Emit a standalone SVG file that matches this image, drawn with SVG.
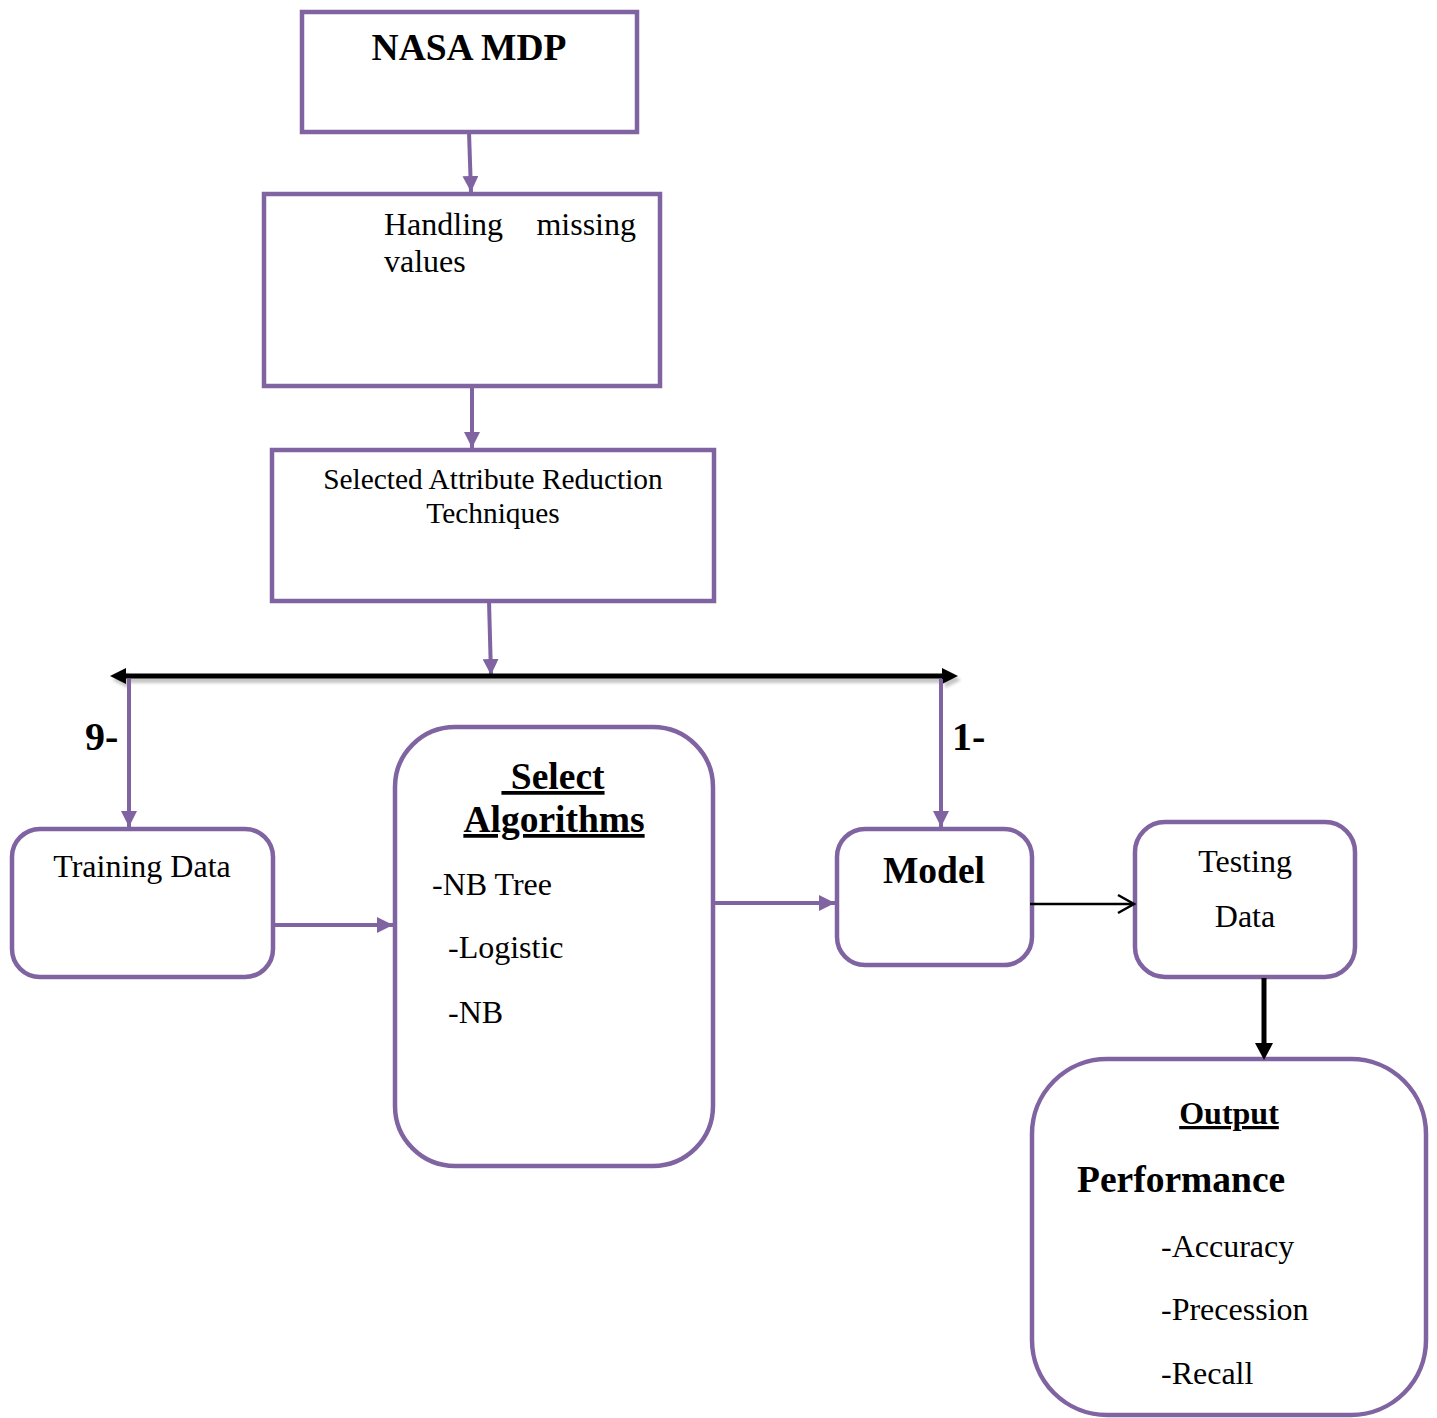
<svg xmlns="http://www.w3.org/2000/svg" width="1437" height="1418" viewBox="0 0 1437 1418">
  <style>
    .box { fill: #ffffff; stroke: #8064A2; stroke-width: 4.5; }
    .link { fill: none; stroke: #8064A2; stroke-width: 4; }
    .t { font-family: "Liberation Serif", "Times New Roman", serif; fill: #000000; font-size: 32px; }
    .b { font-weight: bold; font-size: 37.5px; }
    .s { font-size: 29.4px; }
    .u { text-decoration: underline; }
    .head { fill: #000000; }
  </style>
  <defs>
    <marker id="arrowPurple" markerUnits="userSpaceOnUse" markerWidth="18" markerHeight="16" refX="16" refY="8" orient="auto">
      <path d="M0,0 L16,8 L0,16 Z" fill="#8064A2"/>
    </marker>
    <marker id="arrowOpen" markerUnits="userSpaceOnUse" markerWidth="22" markerHeight="22" refX="19" refY="11" orient="auto">
      <path d="M3,2 L19,11 L3,20" fill="none" stroke="#000000" stroke-width="2.5"/>
    </marker>
    <filter id="softShadow" x="-5%" y="-200%" width="110%" height="500%">
      <feGaussianBlur stdDeviation="1.8"/>
    </filter>
  </defs>

  <!-- nodes -->
  <g id="nasa-mdp">
    <rect class="box" x="302" y="12" width="335" height="120"/>
    <text class="t b" x="469" y="60" text-anchor="middle">NASA MDP</text>
  </g>

  <g id="handling-missing">
    <rect class="box" x="264" y="194" width="396" height="192"/>
    <text class="t" x="384" y="235">Handling</text>
    <text class="t" x="636" y="235" text-anchor="end">missing</text>
    <text class="t" x="384" y="272">values</text>
  </g>

  <g id="attribute-reduction">
    <rect class="box" x="272" y="450" width="442" height="151"/>
    <text class="t s" x="493" y="489" text-anchor="middle">Selected Attribute Reduction</text>
    <text class="t s" x="493" y="523" text-anchor="middle">Techniques</text>
  </g>

  <g id="training-data">
    <rect class="box" x="12" y="829" width="261" height="148" rx="28" ry="28"/>
    <text class="t" x="142" y="877" text-anchor="middle">Training Data</text>
  </g>

  <g id="select-algorithms">
    <rect class="box" x="395" y="727" width="318" height="439" rx="60" ry="60"/>
    <text class="t b u" x="553" y="789" text-anchor="middle" xml:space="preserve"> Select</text>
    <text class="t b u" x="554" y="832" text-anchor="middle">Algorithms</text>
    <text class="t" x="432" y="895">-NB Tree</text>
    <text class="t" x="448" y="958">-Logistic</text>
    <text class="t" x="448" y="1023">-NB</text>
  </g>

  <g id="model">
    <rect class="box" x="837" y="829" width="195" height="136" rx="28" ry="28"/>
    <text class="t b" x="934" y="883" text-anchor="middle">Model</text>
  </g>

  <g id="testing-data">
    <rect class="box" x="1135" y="822" width="220" height="155" rx="30" ry="30"/>
    <text class="t" x="1245" y="872" text-anchor="middle">Testing</text>
    <text class="t" x="1245" y="927" text-anchor="middle">Data</text>
  </g>

  <g id="output">
    <rect class="box" x="1032" y="1059" width="394" height="356" rx="75" ry="75"/>
    <text class="t u" x="1229" y="1124" font-weight="bold" text-anchor="middle">Output</text>
    <text class="t b" x="1077" y="1192">Performance</text>
    <text class="t" x="1161" y="1257">-Accuracy</text>
    <text class="t" x="1161" y="1320">-Precession</text>
    <text class="t" x="1161" y="1384">-Recall</text>
  </g>

  <!-- connectors -->
  <g id="connectors">
    <line class="link" x1="469" y1="132" x2="471" y2="192" marker-end="url(#arrowPurple)"/>
    <line class="link" x1="472" y1="386" x2="472" y2="448" marker-end="url(#arrowPurple)"/>
    <line class="link" x1="489" y1="601" x2="491" y2="675" marker-end="url(#arrowPurple)"/>

    <!-- split bar with soft shadow -->
    <g filter="url(#softShadow)" opacity="0.45" fill="#808080">
      <rect x="118" y="677" width="838" height="6"/>
      <polygon points="112,680 128,672 128,688"/>
      <polygon points="961,680 945,672 945,688"/>
    </g>
    <line x1="124" y1="676" x2="944" y2="676" stroke="#000000" stroke-width="5"/>
    <polygon class="head" points="110,676 126,668 126,684"/>
    <polygon class="head" points="958,676 942,668 942,684"/>

    <line class="link" x1="129" y1="679" x2="129" y2="827" marker-end="url(#arrowPurple)"/>
    <line class="link" x1="941" y1="679" x2="941" y2="827" marker-end="url(#arrowPurple)"/>
    <text class="t b" x="85" y="750" style="font-size:40px">9-</text>
    <text class="t b" x="952" y="750" style="font-size:40px">1-</text>

    <line class="link" x1="273" y1="925" x2="393" y2="925" marker-end="url(#arrowPurple)"/>
    <line class="link" x1="713" y1="903" x2="835" y2="903" marker-end="url(#arrowPurple)"/>

    <line x1="1030" y1="904" x2="1134" y2="904" stroke="#000000" stroke-width="2.5" marker-end="url(#arrowOpen)"/>
    <line x1="1264" y1="978" x2="1264" y2="1045" stroke="#000000" stroke-width="5"/>
    <polygon class="head" points="1255,1043 1273,1043 1264,1060"/>
  </g>
</svg>
